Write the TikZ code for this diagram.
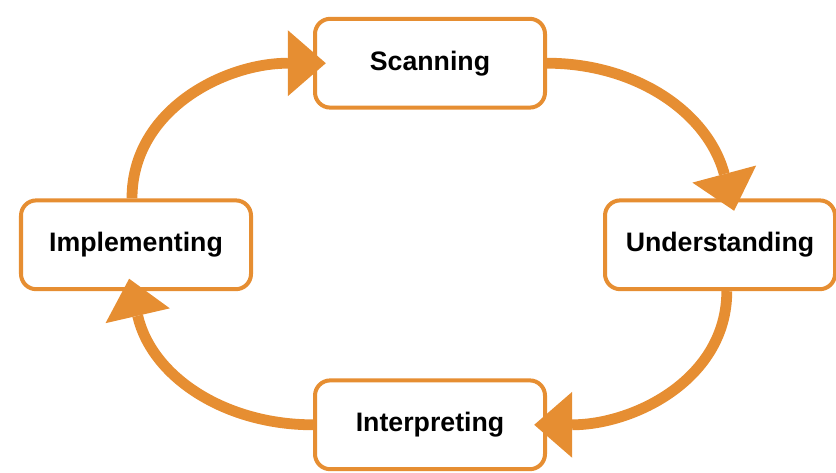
\documentclass[tikz,border=0pt]{standalone}
\usepackage{fontspec}
\setmainfont{Liberation Sans}
\usetikzlibrary{positioning, arrows.meta}
\definecolor{cycleorange}{RGB}{230,142,50}

\begin{document}
\begin{tikzpicture}[>={Triangle[length=0.95cm,width=1.65cm,line width=0pt]},
  stage/.style={draw=cycleorange, line width=0.1cm, fill=white, rounded corners=0.38cm,
    minimum width=5.75cm, minimum height=2.22cm, align=center,
    font=\fontsize{19}{22}\selectfont\bfseries},
  cycle/.style={->, color=cycleorange, line width=0.27cm, shorten >=-0.32cm}]
  \useasboundingbox (0,0) rectangle (20.9,-11.8);

  \node[stage] (scan)   at (10.75,-1.58)  {Scanning};
  \node[stage] (und)    at (18.0,-6.12)   {Understanding};
  \node[stage] (interp) at (10.75,-10.62) {Interpreting};
  \node[stage] (impl)   at (3.4,-6.12)    {Implementing};

  \draw[cycle] ([xshift=-0.1cm]impl.north) to[out=90, in=180] (scan.west);
  \draw[cycle] (scan.east) to[out=0, in=105] ([xshift=0.27cm]und.north);
  \draw[cycle] ([xshift=0.17cm]und.south) to[out=-90, in=0] (interp.east);
  \draw[cycle] (interp.west) to[out=180, in=-77] ([xshift=-0.1cm]impl.south);

\end{tikzpicture}
\end{document}
